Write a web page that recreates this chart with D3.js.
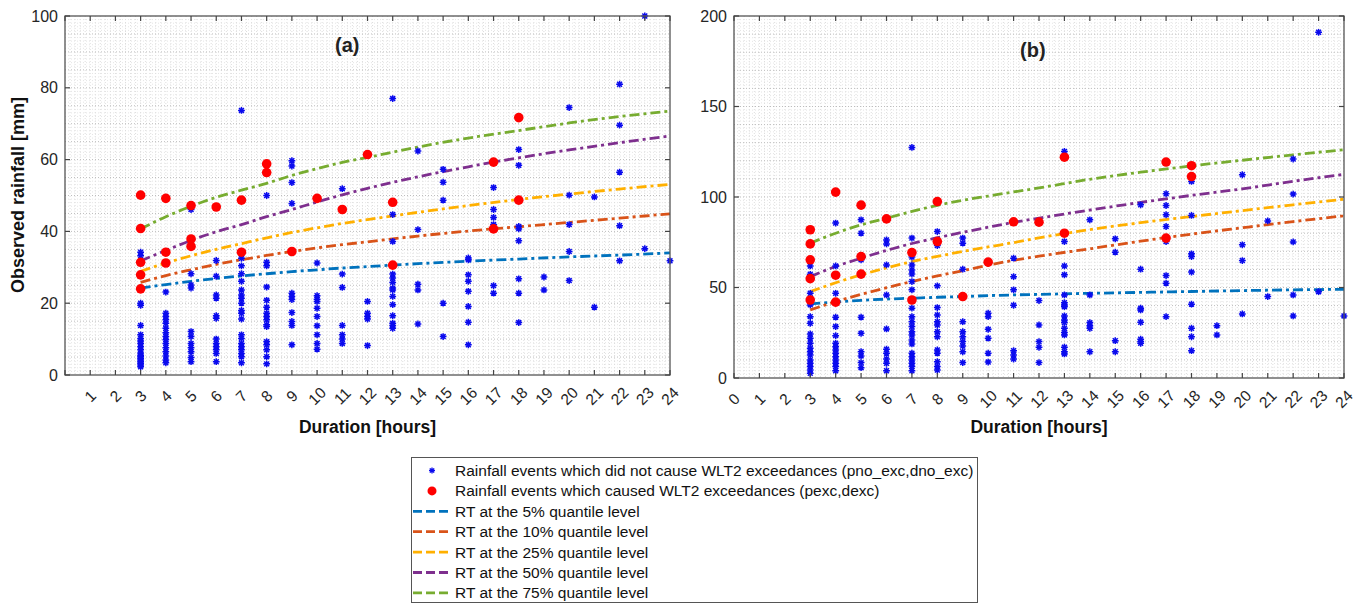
<!DOCTYPE html>
<html><head><meta charset="utf-8">
<script src="https://cdn.jsdelivr.net/npm/d3@7"></script>
<style>
body{margin:0;background:#fff}
svg{display:block}
text{font-family:"Liberation Sans",Arial,Helvetica,sans-serif}
</style>
</head><body>
<svg id="chart" width="1370" height="605"></svg>
<script>
// ---------------- DATA ----------------
const curveDurations = [3,4,5,6,7,8,9,10,11,12,14,16,18,20,22,24];
const quantileNames = ["RT at the 5% quantile level","RT at the 10% quantile level","RT at the 25% quantile level","RT at the 50% quantile level","RT at the 75% quantile level"];
const quantileColors = ["#0072BD","#D95319","#FFB000","#7E2F8E","#77AC30"];

// Panel (a) RT curves
const aQ5  = [24.2,25.2,26.1,26.9,27.6,28.2,28.8,29.3,29.8,30.2,31.0,31.7,32.3,32.9,33.4,34.0];
const aQ10 = [25.8,27.7,29.3,30.8,32.1,33.3,34.4,35.4,36.3,37.1,38.7,40.1,41.3,42.5,43.7,44.9];
const aQ25 = [28.9,31.2,33.2,35.0,36.6,38.2,39.7,41.0,42.2,43.3,45.3,47.2,48.9,50.4,51.8,53.1];
const aQ50 = [31.8,34.7,37.5,39.9,41.9,44.1,46.1,48.2,50.2,52.0,55.2,58.0,60.5,62.7,64.7,66.6];
const aQ75 = [40.7,44.1,47.0,49.5,51.5,53.4,55.6,57.5,59.2,60.6,63.5,66.0,68.1,70.2,72.0,73.5];

// Panel (b) RT curves
const bQ5  = [40.9,42.0,42.9,43.6,44.1,44.6,45.0,45.5,45.9,46.2,46.8,47.3,47.8,48.3,48.7,49.0];
const bQ10 = [37.6,42.2,46.2,49.9,53.3,56.4,59.3,62.3,65.0,67.3,71.4,75.6,79.5,83.0,86.4,89.6];
const bQ25 = [47.7,52.6,57.0,60.8,64.3,67.2,69.9,72.4,74.8,77.4,82.0,85.8,89.2,92.5,95.7,98.8];
const bQ50 = [56.0,61.6,66.2,70.5,74.3,77.5,80.5,83.3,86.0,88.3,92.8,97.0,100.9,104.5,108.7,112.5];
const bQ75 = [74.5,80.0,84.6,88.3,92.0,95.4,98.2,100.5,102.8,105.0,109.8,113.7,117.2,120.3,123.3,126.1];

// Panel (a) rainfall events which did not cause exceedances: [duration, rainfall values]
const aNoExc = [
  [3,[34.2,33.2,20,19.4,13.8,11.2,10.2,9.5,8.8,7.9,7,6.1,5.5,5.1,4.6,4.2,3.7,3.3,2.8,2.3]],
  [4,[23.1,17.2,16.3,15.4,14.4,13,11.8,10.7,9.8,8.8,7.6,6.5,5.3,4.2,3.4]],
  [5,[46.1,28.2,25.1,24.2,12.1,10.7,8.8,7.6,6.5,4.9,3.7]],
  [6,[31.9,27.5,22.3,21.4,16.5,15.8,10,8.8,7.9,7,6,3.7]],
  [7,[73.7,32.5,30.4,28.2,26.1,23.7,22.3,21.4,20,18,17.2,15.6,11.2,10.2,8.8,7.9,7,6,5.1,3.4]],
  [8,[50,31.4,30.4,24.5,20.8,18.9,17.2,16.3,15.4,14,13.5,9.3,8.4,7,5.1,3.1]],
  [9,[59.7,58.2,53.6,47.8,22.8,21.9,21,17.4,14.9,13.8,8.4]],
  [10,[31.2,22.1,21.1,20.5,18.6,16.3,13.7,11.2,8.8,7.2]],
  [11,[51.9,28.1,24.4,13.8,11.2,10,8.8]],
  [12,[20.5,17.2,16.3,15.6,8.2]],
  [13,[77,44.7,37.2,28.1,27,25.8,24.2,23.7,21.9,19.6,16.5,14.4,13.8,13]],
  [14,[62.4,40.5,25.3,23.7,14.2]],
  [15,[57.3,53.7,48.7,20,10.7]],
  [16,[32.6,32.1,27.9,26.1,23.3,19.1,14.7,8.4]],
  [17,[52.2,46.1,43.9,41.9,24.9,22.8]],
  [18,[62.8,58.4,41.4,40.7,37.4,26.8,22.8,14.6]],
  [19,[27.3,23.7]],
  [20,[74.5,50.1,41.9,34.4,26.3]],
  [21,[49.6,18.9]],
  [22,[81,69.6,56.5,41.6,31.8]],
  [23,[100,35.2]],
  [24,[31.8]]
];
// Panel (a) rainfall events which caused exceedances
const aExc = [
  [3,[50.1,40.8,31.4,27.9,24]],
  [4,[49.2,34.2,31.2]],
  [5,[47.2,37.9,35.8]],
  [6,[46.8]],
  [7,[48.7,34.2]],
  [8,[58.8,56.4]],
  [9,[34.4]],
  [10,[49.2]],
  [11,[46.1]],
  [12,[61.4]],
  [13,[48.1,30.6]],
  [17,[59.3,40.7]],
  [18,[71.7,48.7]]
];
// Panel (b) non-exceedance events
const bNoExc = [
  [3,[61.9,57.3,46.8,40.4,33.9,30.2,24.3,22,19.2,16.4,14.5,12.7,10,8.1,6.3,4.4,2.6]],
  [4,[85.6,61.9,46.8,33.6,28.4,23.4,19.2,17.3,15.5,13.7,11.8,10,8.1,6.3,4]],
  [5,[87.4,80,65.3,33.6,24.7,14.5,12.2,8.5,5.7]],
  [6,[76.3,74.1,62.5,45.9,27.1,15.9,13.7,10.5,8.1,4]],
  [7,[127.4,77.3,66.8,62.5,59.7,57.4,53.3,48.7,38.6,33.9,31.1,28.4,25.6,23.8,21,18.8,13.7,11.8,10,8.1,6.3,4]],
  [8,[80.9,73.2,50.9,38.9,34.8,31.1,29.3,25.6,22.8,15.5,13.7,9,6.3,4.4]],
  [9,[77.3,74.5,60.1,31.1,25.6,22.8,20.1,17.7,14.5,8.5]],
  [10,[35.8,33.9,26.9,22,13.7,8.8]],
  [11,[66.2,56,48.7,40.2,15.1,12.7,10.5]],
  [12,[42.8,29.3,20.1,17,8.5]],
  [13,[125.2,75.4,61.9,57,45.9,41.6,40.4,39.4,34.3,32.1,30.6,27.5,25.1,23.8,17,14.5,13.3]],
  [14,[87.4,45.9,30.6,28.9,27.5,14.5]],
  [15,[76.9,69.5,20.6,14.5]],
  [16,[95.7,60.1,38.6,37.6,30.8,21.4,20.1,19.2]],
  [17,[101.8,95.3,90.2,83.7,75.4,56.6,52.4,33.9]],
  [18,[108.6,89.8,68.6,67.1,58.5,40.8,27.5,22.8,15.1]],
  [19,[28.9,23.8]],
  [20,[112.3,73.6,64.9,35.4]],
  [21,[86.8,45]],
  [22,[121,101.6,75.2,45.9,34.3]],
  [23,[191,47.7]],
  [24,[34.3]]
];
// Panel (b) exceedance events
const bExc = [
  [3,[81.9,74.1,65.3,54.9,43.1]],
  [4,[102.7,56.8,41.9]],
  [5,[95.5,67.1,57.4]],
  [6,[87.9]],
  [7,[69.3,43.1]],
  [8,[97.5,75.4]],
  [9,[45]],
  [10,[64]],
  [11,[86.3]],
  [12,[86.1]],
  [13,[122,80]],
  [17,[119.3,77.3]],
  [18,[117.3,111.3]]
];

const aXTicks = d3.range(1,25);
const bXTicks = d3.range(0,25);
const aYTicks = [0,20,40,60,80,100];
const bYTicks = [0,50,100,150,200];
const legendLabels = ["Rainfall events which did not cause WLT2 exceedances (pno_exc,dno_exc)",
                      "Rainfall events which caused WLT2 exceedances (pexc,dexc)"];

// ---------------- DRAW ----------------
const svg = d3.select("#chart");
svg.append("rect").attr("width",1370).attr("height",605).attr("fill","#fff");

const BLUE = "#0a0aee", RED = "#ff0000";

function asteriskPath(s){
  const a = s*0.72;
  return `M${-s},0H${s}M0,${-s}V${s}M${-a},${-a}L${a},${a}M${-a},${a}L${a},${-a}`;
}

function flatten(groups){
  const out=[];
  groups.forEach(([d,vals])=>vals.forEach(v=>out.push([d,v])));
  return out;
}

function panel(cfg){
  const x = d3.scaleLinear().domain([0,24]).range([cfg.left,cfg.right]);
  const y = d3.scaleLinear().domain([0,cfg.ymax]).range([cfg.bottom,cfg.top]);
  const g = svg.append("g");

  // minor grid
  const grid = g.append("g");
  d3.range(0.2,24,0.2).forEach(v=>{
    grid.append("line").attr("x1",x(v)).attr("x2",x(v)).attr("y1",cfg.top).attr("y2",cfg.bottom)
      .attr("stroke","#d6d6d6").attr("stroke-width",0.8).attr("stroke-dasharray","1,2");
  });
  d3.range(cfg.minorStep,cfg.ymax,cfg.minorStep).forEach(v=>{
    const isMid = Math.abs(v/cfg.midStep - Math.round(v/cfg.midStep))<1e-6;
    grid.append("line").attr("x1",cfg.left).attr("x2",cfg.right).attr("y1",y(v)).attr("y2",y(v))
      .attr("stroke",isMid?"#bdbdbd":"#dedede").attr("stroke-width",isMid?1:0.8).attr("stroke-dasharray","1,2");
  });

  // RT curves
  const line = d3.line().x((d,i)=>x(curveDurations[i])).y(d=>y(d)).curve(d3.curveMonotoneX);
  cfg.curves.forEach((c,i)=>{
    g.append("path").attr("d",line(c)).attr("fill","none").attr("stroke",quantileColors[i])
      .attr("stroke-width",2.8).attr("stroke-dasharray","10,4,3,4");
  });

  // non-exceedance events (asterisks)
  g.append("g").selectAll("path").data(flatten(cfg.noExc)).join("path")
    .attr("transform",d=>`translate(${x(d[0])},${y(d[1])})`)
    .attr("d",asteriskPath(3.4)).attr("stroke",BLUE).attr("stroke-width",1.5).attr("fill","none");

  // exceedance events (red dots)
  g.append("g").selectAll("circle").data(flatten(cfg.exc)).join("circle")
    .attr("cx",d=>x(d[0])).attr("cy",d=>y(d[1])).attr("r",4.8).attr("fill",RED);

  // frame
  g.append("rect").attr("x",cfg.left).attr("y",cfg.top).attr("width",cfg.right-cfg.left).attr("height",cfg.bottom-cfg.top)
    .attr("fill","none").attr("stroke","#555").attr("stroke-width",1.3);

  // ticks (inward, all four sides)
  const tl = 5;
  d3.range(0,25).forEach(v=>{
    g.append("line").attr("x1",x(v)).attr("x2",x(v)).attr("y1",cfg.bottom).attr("y2",cfg.bottom-tl).attr("stroke","#444").attr("stroke-width",1.2);
    g.append("line").attr("x1",x(v)).attr("x2",x(v)).attr("y1",cfg.top).attr("y2",cfg.top+tl).attr("stroke","#444").attr("stroke-width",1.2);
  });
  cfg.yTicks.forEach(v=>{
    g.append("line").attr("x1",cfg.left).attr("x2",cfg.left+tl).attr("y1",y(v)).attr("y2",y(v)).attr("stroke","#444").attr("stroke-width",1.2);
    g.append("line").attr("x1",cfg.right).attr("x2",cfg.right-tl).attr("y1",y(v)).attr("y2",y(v)).attr("stroke","#444").attr("stroke-width",1.2);
  });

  // tick labels
  g.append("g").selectAll("text").data(cfg.yTicks).join("text")
    .attr("x",cfg.left-7).attr("y",d=>y(d)).attr("dy","0.35em").attr("text-anchor","end")
    .attr("font-size","16px").attr("fill","#262626").text(d=>d);
  g.append("g").selectAll("text").data(cfg.xTicks).join("text")
    .attr("transform",d=>`translate(${x(d)},${cfg.bottom+21}) rotate(-45)`)
    .attr("dy","0.35em").attr("text-anchor","middle")
    .attr("font-size","15.5px").attr("fill","#262626").text(d=>d);

  // axis title
  g.append("text").attr("x",(cfg.left+cfg.right)/2).attr("y",433).attr("text-anchor","middle")
    .attr("font-size","17.5px").attr("font-weight","bold").attr("fill","#111").text("Duration [hours]");

  // panel label
  g.append("text").attr("x",cfg.labelX).attr("y",cfg.labelY).attr("font-size","20px")
    .attr("font-weight","bold").attr("fill","#222").text(cfg.label);
  return {x,y};
}

panel({left:65,right:670,top:16,bottom:375,ymax:100,minorStep:1,midStep:5,
  curves:[aQ5,aQ10,aQ25,aQ50,aQ75],noExc:aNoExc,exc:aExc,xTicks:aXTicks,yTicks:aYTicks,
  label:"(a)",labelX:335,labelY:52});
panel({left:734,right:1344,top:16,bottom:378,ymax:200,minorStep:2,midStep:10,
  curves:[bQ5,bQ10,bQ25,bQ50,bQ75],noExc:bNoExc,exc:bExc,xTicks:bXTicks,yTicks:bYTicks,
  label:"(b)",labelX:1020,labelY:57});

// y-axis title
svg.append("text").attr("transform","translate(24,195) rotate(-90)").attr("text-anchor","middle")
  .attr("font-size","18px").attr("font-weight","bold").attr("fill","#111").text("Observed rainfall [mm]");

// legend
const lg = svg.append("g");
lg.append("rect").attr("x",411.5).attr("y",457.5).attr("width",566).attr("height",145)
  .attr("fill","#fff").attr("stroke","#555").attr("stroke-width",1);
const rowY = i => 470.5 + i*20.4;
lg.append("path").attr("d",asteriskPath(3)).attr("transform",`translate(432,${rowY(0)})`)
  .attr("stroke",BLUE).attr("stroke-width",1.3).attr("fill","none");
lg.append("circle").attr("cx",432).attr("cy",rowY(1)).attr("r",4.5).attr("fill",RED);
legendLabels.forEach((t,i)=>{
  lg.append("text").attr("x",455).attr("y",rowY(i)).attr("dy","0.35em").attr("font-size","15.5px").attr("fill","#111").text(t);
});
quantileNames.forEach((t,i)=>{
  const yy = rowY(i+2);
  lg.append("line").attr("x1",413).attr("x2",452).attr("y1",yy).attr("y2",yy)
    .attr("stroke",quantileColors[i]).attr("stroke-width",2.8).attr("stroke-dasharray","9,4");
  lg.append("text").attr("x",455).attr("y",yy).attr("dy","0.35em").attr("font-size","15.5px").attr("fill","#111").text(t);
});
</script>
</body></html>
